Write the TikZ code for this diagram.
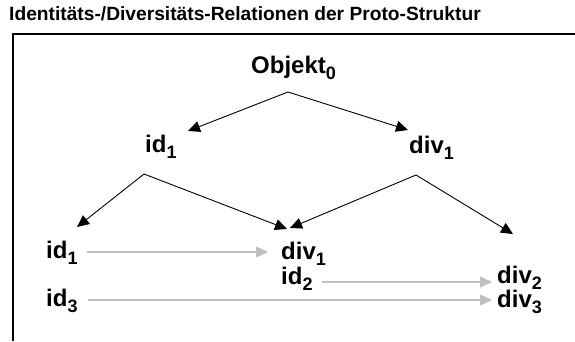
\documentclass[tikz,border=0pt]{standalone}
\usepackage{fontspec}
\setmainfont{Liberation Sans}
\usetikzlibrary{arrows.meta}
\newcommand{\subidx}[1]{\raisebox{-6.5bp}{\fontsize{18bp}{20bp}\selectfont #1}}
\definecolor{arrgrey}{RGB}{190,190,190}
\tikzset{
  lbl/.style={inner sep=0pt, anchor=base west, font=\fontsize{24bp}{28bp}\selectfont\bfseries},
  ttl/.style={inner sep=0pt, anchor=base west, font=\fontsize{19.2bp}{22bp}\selectfont\bfseries},
  blk/.style={draw=black, line width=0.9bp, -{Triangle[length=12bp,width=11bp]}},
  gry/.style={draw=arrgrey, line width=1.3bp, -{Triangle[length=12bp,width=11bp]}},
  frame/.style={draw=black, line width=2bp}
}
\begin{document}
\begin{tikzpicture}[x=1bp,y=-1bp]
\useasboundingbox (0,0) rectangle (575,341);
\node[ttl] (title) at (9,20) {Identitäts-/Diversitäts-Relationen der Proto-Struktur};
\coordinate (fc) at (12.5,34);
\coordinate (fr) at (575,34);
\coordinate (fb) at (12.5,341);
\draw[frame] (fr) -- (fc) -- (fb);
% tree nodes
\node[lbl] (obj) at (251,73) {Objekt\subidx{0}};
\node[lbl] (idA) at (145,152) {id\subidx{1}};
\node[lbl] (divA) at (409,153) {div\subidx{1}};
\node[lbl] (idB) at (46,258) {id\subidx{1}};
\node[lbl] (divB) at (281,259) {div\subidx{1}};
\node[lbl] (idC) at (281,284) {id\subidx{2}};
\node[lbl] (divC) at (497,283) {div\subidx{2}};
\node[lbl] (idD) at (46,306) {id\subidx{3}};
\node[lbl] (divD) at (497,307) {div\subidx{3}};
% branch points
\coordinate (a0) at (288,92);
\coordinate (a1) at (144,174);
\coordinate (a2) at (416,175);
\coordinate (t0l) at (188,131);
\coordinate (t0r) at (408,130);
\coordinate (t1l) at (77,227);
\coordinate (t1r) at (287,229);
\coordinate (t2l) at (290,228);
\coordinate (t2r) at (513,234);
\draw[blk] (a0) -- (t0l);
\draw[blk] (a0) -- (t0r);
\draw[blk] (a1) -- (t1l);
\draw[blk] (a1) -- (t1r);
\draw[blk] (a2) -- (t2l);
\draw[blk] (a2) -- (t2r);
% grey relation arrows
\coordinate (g1s) at (87,252);
\coordinate (g1e) at (268,252);
\coordinate (g2s) at (322,282);
\coordinate (g2e) at (492,282);
\coordinate (g3s) at (88,300);
\coordinate (g3e) at (492,300);
\draw[gry] (g1s) -- (g1e);
\draw[gry] (g2s) -- (g2e);
\draw[gry] (g3s) -- (g3e);
\end{tikzpicture}
\end{document}
